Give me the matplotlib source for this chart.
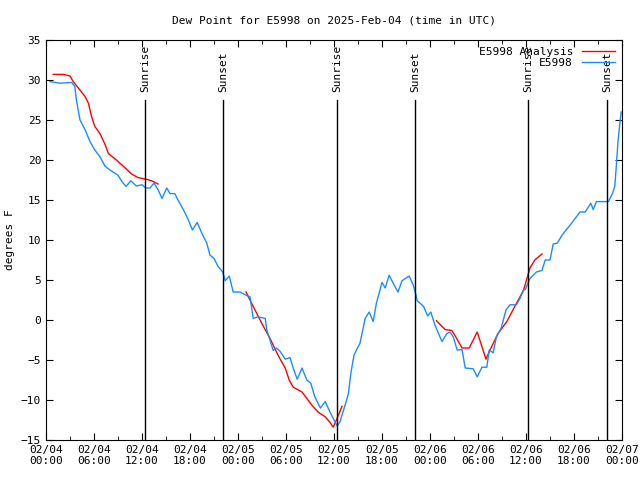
import numpy as np
import matplotlib.pyplot as plt
import matplotlib.ticker as mticker

# hours since 2025-02-04 00:00 UTC
obs_hours = [0.5, 1.75, 3.2, 3.6, 3.8, 4.25, 4.9, 5.5, 6.1, 6.75, 7.4, 8.0, 9.0, 9.5, 10.0,
             10.6, 11.3, 12.0, 12.5, 13.0, 13.5, 14.0, 14.5, 15.1, 15.5, 16.1, 16.5, 17.2,
             17.8, 18.3, 18.9, 19.5, 20.1, 20.5, 21.0, 21.5, 22.1, 22.4, 22.9, 23.4, 24.25,
             25.0, 25.5, 25.9, 26.5, 27.4, 27.6, 28.0, 28.4, 28.8, 29.25, 29.9, 30.5, 30.9,
             31.4, 32.0, 32.6, 33.1, 33.6, 34.3, 34.9, 35.5, 36.0, 36.4, 36.75, 37.4, 37.8,
             38.1, 38.5, 38.8, 39.25, 39.9, 40.4, 40.9, 41.3, 42.0, 42.4, 42.9, 43.4, 44.0,
             44.5, 45.4, 45.9, 46.25, 46.4, 47.2, 47.7, 48.1, 48.6, 49.2, 49.5, 50.1, 50.5,
             50.9, 51.4, 52.0, 52.4, 53.4, 53.9, 54.5, 55.1, 55.4, 55.9, 56.3, 56.9, 57.5,
             58.0, 58.8, 59.25, 59.7, 59.9, 60.5, 61.3, 62.0, 62.4, 63.0, 63.4, 63.9, 64.5,
             65.7, 66.75, 67.4, 68.1, 68.4, 68.8, 70.3, 70.8, 71.1, 71.3, 71.5, 71.75, 71.9]
obs_dewpt = [29.8, 29.6, 29.7, 29.2, 27.5, 25.0, 23.75, 22.3, 21.25, 20.4, 19.2, 18.75, 18.1,
             17.3, 16.7, 17.4, 16.75, 16.9, 16.5, 16.5, 17.1, 16.3, 15.2, 16.5, 15.8, 15.8,
             15.0, 13.75, 12.5, 11.25, 12.2, 10.8, 9.6, 8.1, 7.7, 6.7, 6.0, 4.9, 5.5, 3.5,
             3.5, 3.1, 2.9, 0.2, 0.4, 0.2, -1.25, -2.5, -3.8, -3.5, -3.9, -4.9, -4.7, -6.0,
             -7.4, -6.0, -7.5, -7.9, -9.6, -11.0, -10.2, -11.5, -12.5, -13.25, -12.7, -10.6,
             -9.2, -6.7, -4.4, -3.75, -2.9, 0.2, 1.0, -0.2, 2.1, 4.7, 4.0, 5.6, 4.6, 3.5,
             4.9, 5.5, 4.4, 3.1, 2.4, 1.7, 0.5, 1.0, -0.6, -2.0, -2.7, -1.7, -1.5, -2.1,
             -3.75, -3.7, -6.0, -6.1, -7.1, -5.9, -5.9, -3.75, -4.1, -2.1, -1.0, 1.25, 1.9,
             1.9, 2.7, 3.75, 3.8, 5.2, 6.0, 6.2, 7.5, 7.5, 9.5, 9.6, 10.6, 12.1, 13.5, 13.5,
             14.6, 13.8, 14.8, 14.8, 15.8, 16.7, 19.4, 22.3, 24.8, 26.0]

# analysis, gaps marked with nan
ana_hours = [0.9, 2.2, 3.0, 3.4, 4.25, 4.9, 5.3, 5.7, 6.1, 6.75, 7.4, 7.8, 8.8, 9.9, 10.7,
             11.5, 12.5, 13.2, 14.0, 14.5,
             25.0, 25.9, 26.96, 28.0, 29.0, 29.9, 30.4, 30.9, 32.0, 32.6, 33.2, 34.0, 34.9,
             35.5, 35.9, 36.3, 37.0, 37.5,
             48.8, 49.9, 50.7, 51.1, 52.0, 52.9, 53.9, 55.0, 55.5, 56.5, 57.6, 58.6, 59.25,
             59.7, 60.5, 61.1, 62.0]
ana_dewpt = [30.7, 30.7, 30.5, 29.8, 28.75, 27.9, 27.1, 25.4, 24.2, 23.3, 21.9, 20.8, 20.0,
             19.0, 18.25, 17.8, 17.6, 17.4, 17.0, np.nan,
             3.5, 1.7, -0.4, -2.3, -4.4, -6.0, -7.5, -8.4, -9.0, -9.8, -10.6, -11.5, -12.1,
             -12.8, -13.4, -12.5, -10.8, np.nan,
             -0.1, -1.2, -1.3, -1.9, -3.5, -3.5, -1.5, -4.9, -3.75, -1.7, -0.2, 1.7, 2.9,
             3.75, 6.5, 7.5, 8.25]

sun_hours = [12.375, 22.125, 36.375, 46.125, 60.25, 70.125]
sun_names = ["Sunrise", "Sunset", "Sunrise", "Sunset", "Sunrise", "Sunset"]

tick_labels = ["02/04\n00:00", "02/04\n06:00", "02/04\n12:00", "02/04\n18:00",
               "02/05\n00:00", "02/05\n06:00", "02/05\n12:00", "02/05\n18:00",
               "02/06\n00:00", "02/06\n06:00", "02/06\n12:00", "02/06\n18:00",
               "02/07\n00:00"]

plt.rcParams['font.family'] = 'DejaVu Sans Mono'
plt.rcParams['font.size'] = 8

fig = plt.figure(figsize=(6.4, 4.8), dpi=100)
ax = fig.add_axes([46/640, 40/480, 576/640, 400/480])

ax.plot(ana_hours, ana_dewpt, color='#ff0000', linewidth=1, label='E5998 Analysis')
ax.plot(obs_hours, obs_dewpt, color='#1a8cff', linewidth=1, label='E5998')

for h, name in zip(sun_hours, sun_names):
    ax.plot([h, h], [-15, 27.5], color='black', linewidth=1)
    ax.text(h, 28.5, name, rotation=90, ha='center', va='bottom', fontsize=8)

ax.set_xlim(0, 72)
ax.set_ylim(-15, 35)
ax.set_xticks(np.arange(0, 73, 6))
ax.set_xticklabels(tick_labels)
ax.xaxis.set_minor_locator(mticker.MultipleLocator(3))
ax.set_yticks(np.arange(-15, 36, 5))
ax.tick_params(which='both', direction='in', top=True, right=True, labelsize=8)
ax.tick_params(which='major', length=5)
ax.tick_params(which='minor', length=3)

ax.set_title("Dew Point for E5998 on 2025-Feb-04 (time in UTC)", fontsize=8, pad=12)
ax.set_ylabel("degrees F")

ax.legend(loc='upper right', frameon=False, markerfirst=False, handlelength=3,
          borderaxespad=0.2, labelspacing=0.1, fontsize=8)

fig.savefig("out.png")
